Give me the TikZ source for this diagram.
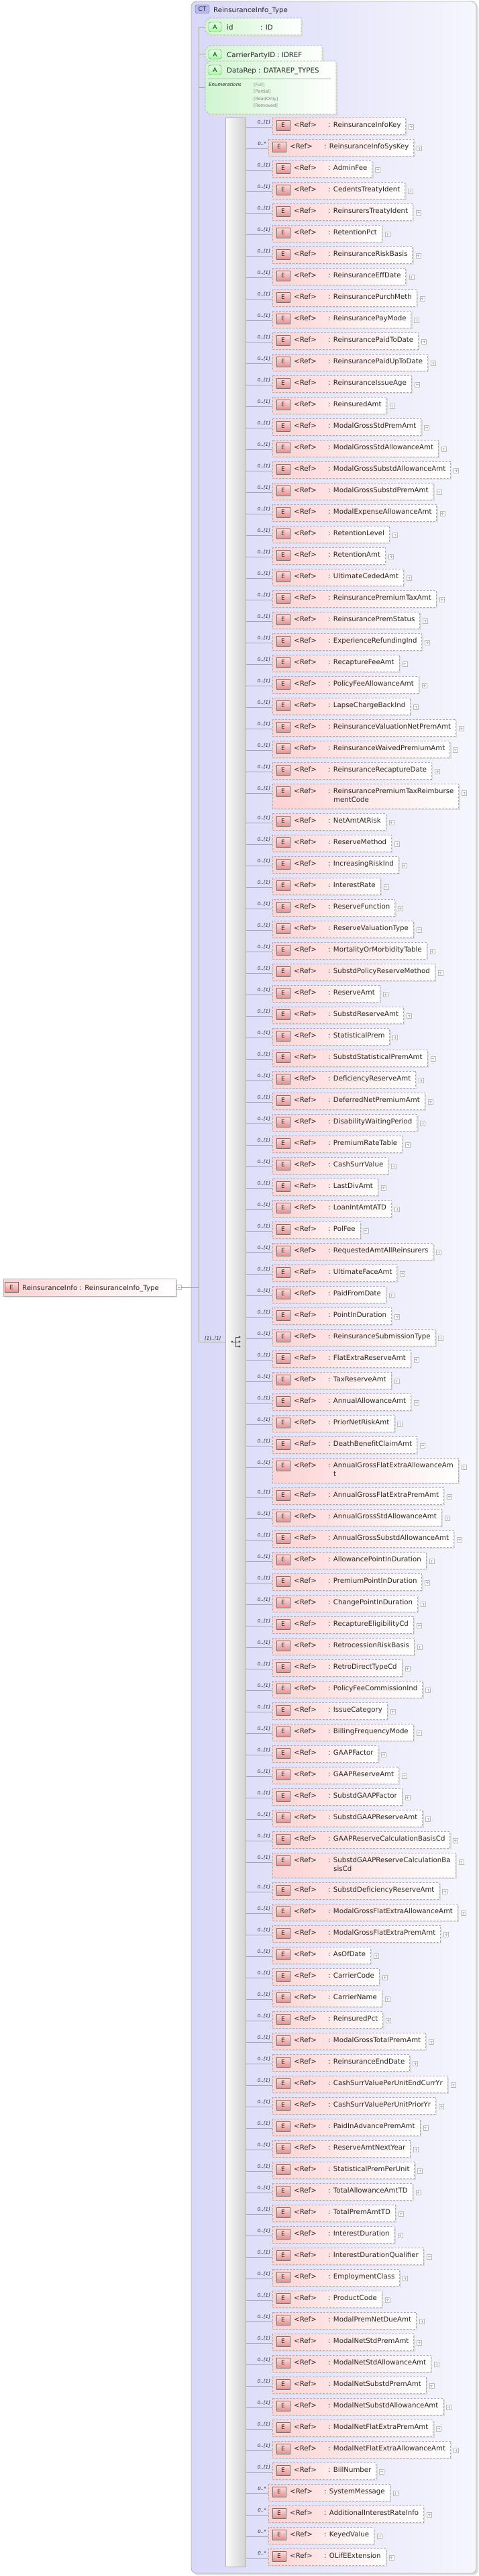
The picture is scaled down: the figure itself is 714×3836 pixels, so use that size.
\documentclass[tikz,border=0pt]{standalone}
\usepackage{fontspec}
\setmainfont{DejaVu Sans}
\usetikzlibrary{calc}
\pgfdeclarelayer{back}\pgfdeclarelayer{bg}\pgfsetlayers{back,bg,main}
\definecolor{pinkL}{RGB}{252,210,210}
\definecolor{greenL}{RGB}{208,245,208}
\definecolor{lavL}{RGB}{216,216,248}
\definecolor{lavR}{RGB}{246,246,253}
\definecolor{txt}{RGB}{40,40,40}
\tikzset{
  rname/.style={inner sep=0pt, font=\fontsize{10.2}{12}\selectfont, text=txt},
  multl/.style={inner sep=0pt, font=\fontsize{7}{8}\selectfont\itshape, text=txt},
  eicon/.style={draw=black!55, top color=pinkL!70, bottom color={rgb,255:red,235;green,140;blue,140}, minimum width=20pt, minimum height=15pt, inner sep=0pt, font=\fontsize{9}{10}\selectfont, text=txt},
  aicon/.style={draw=black!60, rounded corners=3pt, top color=green!12, bottom color=green!35!white, minimum width=19pt, minimum height=14pt, inner sep=0pt, font=\fontsize{9}{10}\selectfont, text=txt},
  conn/.style={draw=gray!70, line width=0.6pt},
  dbox/.style={draw=gray!65, dash pattern=on 3pt off 2pt, line width=0.6pt},
  plusbox/.style={draw=gray!55, fill=white, line width=0.5pt},
}
\begin{document}
\begin{tikzpicture}[x=1pt,y=-1pt]
\useasboundingbox (0,0) rectangle (714,3836);
% container
\begin{pgfonlayer}{back}
\fill[black!12] (288,5) [rounded corners=8pt] rectangle (713,3835);
\shade[left color=lavL, right color=lavR, rounded corners=8pt] (285,2) rectangle (710,3832);
\draw[gray!60, line width=0.8pt, rounded corners=8pt] (285,2) rectangle (710,3832);
\end{pgfonlayer}
\node[draw=black!60, rounded corners=3pt, fill={rgb,255:red,184;green,184;blue,240}, minimum width=21pt, minimum height=13pt, inner sep=0pt, font=\fontsize{9}{10}\selectfont, text=txt] (ct) at (301.5,13.5) {CT};
\node[rname, anchor=base west] (ctname) at (318,18) {ReinsuranceInfo\_Type};
% attributes
\coordinate (vtop) at (296,40);
\coordinate (vbot) at (296,1998);
\draw[conn] (vtop) -- (vbot);
\begin{pgfonlayer}{bg}
\foreach \ya/\yb/\xr in {27/52/449, 68/93/480, 91/170/501}{
  \fill[black!12] (314,\ya+3) -- (\xr+3,\ya+3) -- (\xr+3,\yb+3) -- (314,\yb+3) -- cycle;
  \shade[left color=greenL, right color=white] (312,\ya) -- (\xr,\ya) -- (\xr,\yb) -- (312,\yb) -- (306,\yb-6) -- (306,\ya+6) -- cycle;
  \draw[dbox] (312,\ya) -- (\xr,\ya) -- (\xr,\yb) -- (312,\yb) -- (306,\yb-6) -- (306,\ya+6) -- cycle;
}
\end{pgfonlayer}
\node[aicon] (a1) at (320.5,40) {A};
\node[aicon] (a2) at (320.5,81) {A};
\node[aicon] (a3) at (320.5,104) {A};
\draw[conn] (vtop) -- (a1.west -| 306,0);
\draw[conn] (296,80) -- (306,80);
\draw[conn] (296,130) -- (306,130);
\node[rname, anchor=base west] (t1) at (338,44) {id};
\node[rname, anchor=base west] (t1b) at (388,44) {: ID};
\node[rname, anchor=base west] (t2) at (338,85) {CarrierPartyID : IDREF};
\node[rname, anchor=base west] (t3) at (338,108) {DataRep : DATAREP\_TYPES};
\draw[gray!60, line width=0.8pt] (310,117) -- (493,117);
\node[multl, anchor=base west] (en) at (311,128) {Enumerations};
\foreach \v/\yy in {Full/128, Partial/138, ReadOnly/149, Removed/159}{
  \node[inner sep=0pt, font=\fontsize{6.5}{7}\selectfont, text=gray, anchor=base west] at (378,\yy) {[\v]};
}
% root element
\begin{pgfonlayer}{bg}
\fill[black!15] (7,1906) rectangle (264,1932);
\shade[left color=pinkL, right color=white] (5,1904) rectangle (262,1930);
\draw[gray!60, line width=0.6pt] (5,1904) rectangle (262,1930);
\end{pgfonlayer}
\node[eicon] (re) at (17,1917) {E};
\node[rname, anchor=base west] (rname) at (33,1921) {ReinsuranceInfo : ReinsuranceInfo\_Type};
\node[plusbox, minimum size=7pt, inner sep=0pt] (rminus) at (266.5,1917) {};
\draw[gray!60] (264.5,1917) -- (268.5,1917);
\draw[conn] (rminus.east) -- (296,1917);
% sequence
\node[draw=gray!60, left color=gray!4, right color=gray!35, minimum width=30pt, minimum height=3647pt, inner sep=0pt, anchor=north west] (bar) at (336,175) {};
\draw[conn] (vbot) -- (bar.west |- vbot);
\node[multl, anchor=base west] (seqlab) at (305,1995) {[1]..[1]};
\begin{scope}[black!70, line width=0.8pt]
\draw (346,1998) -- (351,1998);
\draw (351,1991) -- (351,2005);
\draw (351,1991) -- (357,1991) (351,1998) -- (357,1998) (351,2005) -- (357,2005);
\fill (346,1998) circle (1.7pt) (357,1991) circle (1.7pt) (357,1998) circle (1.7pt) (357,2005) circle (1.7pt);
\end{scope}
% rows
\gdef\rowtop{175}
\foreach \m/\rh/\na/\nb [count=\i] in {
1/25/ReinsuranceInfoKey/-, s/25/ReinsuranceInfoSysKey/-, 1/25/AdminFee/-, 1/25/CedentsTreatyIdent/-,
1/25/ReinsurersTreatyIdent/-, 1/25/RetentionPct/-, 1/25/ReinsuranceRiskBasis/-, 1/25/ReinsuranceEffDate/-,
1/25/ReinsurancePurchMeth/-, 1/25/ReinsurancePayMode/-, 1/25/ReinsurancePaidToDate/-, 1/25/ReinsurancePaidUpToDate/-,
1/25/ReinsuranceIssueAge/-, 1/25/ReinsuredAmt/-, 1/25/ModalGrossStdPremAmt/-, 1/25/ModalGrossStdAllowanceAmt/-,
1/25/ModalGrossSubstdAllowanceAmt/-, 1/25/ModalGrossSubstdPremAmt/-, 1/25/ModalExpenseAllowanceAmt/-, 1/25/RetentionLevel/-,
1/25/RetentionAmt/-, 1/25/UltimateCededAmt/-, 1/25/ReinsurancePremiumTaxAmt/-, 1/25/ReinsurancePremStatus/-,
1/25/ExperienceRefundingInd/-, 1/25/RecaptureFeeAmt/-, 1/25/PolicyFeeAllowanceAmt/-, 1/25/LapseChargeBackInd/-,
1/25/ReinsuranceValuationNetPremAmt/-, 1/25/ReinsuranceWaivedPremiumAmt/-, 1/25/ReinsuranceRecaptureDate/-,
1/37/ReinsurancePremiumTaxReimburse/mentCode,
1/25/NetAmtAtRisk/-, 1/25/ReserveMethod/-, 1/25/IncreasingRiskInd/-, 1/25/InterestRate/-, 1/25/ReserveFunction/-,
1/25/ReserveValuationType/-, 1/25/MortalityOrMorbidityTable/-, 1/25/SubstdPolicyReserveMethod/-, 1/25/ReserveAmt/-,
1/25/SubstdReserveAmt/-, 1/25/StatisticalPrem/-, 1/25/SubstdStatisticalPremAmt/-, 1/25/DeficiencyReserveAmt/-,
1/25/DeferredNetPremiumAmt/-, 1/25/DisabilityWaitingPeriod/-, 1/25/PremiumRateTable/-, 1/25/CashSurrValue/-,
1/25/LastDivAmt/-, 1/25/LoanIntAmtATD/-, 1/25/PolFee/-, 1/25/RequestedAmtAllReinsurers/-, 1/25/UltimateFaceAmt/-,
1/25/PaidFromDate/-, 1/25/PointInDuration/-, 1/25/ReinsuranceSubmissionType/-, 1/25/FlatExtraReserveAmt/-,
1/25/TaxReserveAmt/-, 1/25/AnnualAllowanceAmt/-, 1/25/PriorNetRiskAmt/-, 1/25/DeathBenefitClaimAmt/-,
1/37/AnnualGrossFlatExtraAllowanceAm/t,
1/25/AnnualGrossFlatExtraPremAmt/-, 1/25/AnnualGrossStdAllowanceAmt/-, 1/25/AnnualGrossSubstdAllowanceAmt/-,
1/25/AllowancePointInDuration/-, 1/25/PremiumPointInDuration/-, 1/25/ChangePointInDuration/-, 1/25/RecaptureEligibilityCd/-,
1/25/RetrocessionRiskBasis/-, 1/25/RetroDirectTypeCd/-, 1/25/PolicyFeeCommissionInd/-, 1/25/IssueCategory/-,
1/25/BillingFrequencyMode/-, 1/25/GAAPFactor/-, 1/25/GAAPReserveAmt/-, 1/25/SubstdGAAPFactor/-, 1/25/SubstdGAAPReserveAmt/-,
1/25/GAAPReserveCalculationBasisCd/-,
1/37/SubstdGAAPReserveCalculationBa/sisCd,
1/25/SubstdDeficiencyReserveAmt/-, 1/25/ModalGrossFlatExtraAllowanceAmt/-, 1/25/ModalGrossFlatExtraPremAmt/-,
1/25/AsOfDate/-, 1/25/CarrierCode/-, 1/25/CarrierName/-, 1/25/ReinsuredPct/-, 1/25/ModalGrossTotalPremAmt/-,
1/25/ReinsuranceEndDate/-, 1/25/CashSurrValuePerUnitEndCurrYr/-, 1/25/CashSurrValuePerUnitPriorYr/-,
1/25/PaidInAdvancePremAmt/-, 1/25/ReserveAmtNextYear/-, 1/25/StatisticalPremPerUnit/-, 1/25/TotalAllowanceAmtTD/-,
1/25/TotalPremAmtTD/-, 1/25/InterestDuration/-, 1/25/InterestDurationQualifier/-, 1/25/EmploymentClass/-,
1/25/ProductCode/-, 1/25/ModalPremNetDueAmt/-, 1/25/ModalNetStdPremAmt/-, 1/25/ModalNetStdAllowanceAmt/-,
1/25/ModalNetSubstdPremAmt/-, 1/25/ModalNetSubstdAllowanceAmt/-, 1/25/ModalNetFlatExtraPremAmt/-,
1/25/ModalNetFlatExtraAllowanceAmt/-, 1/25/BillNumber/-, s/25/SystemMessage/-, s/25/AdditionalInterestRateInfo/-,
s/25/KeyedValue/-, s/25/OLifEExtension/-}{
  \if s\m \def\bx{400}\def\lab{0..*}\else \def\bx{406}\def\lab{0..[1]}\fi
  \node[rname, anchor=base west] (n\i) at (\bx+83,\rowtop+14.7) {: \na};
  \ifnum\rh>25
    \node[rname, anchor=base west] (m\i) at (\bx+91,\rowtop+27.5) {\nb};
  \fi
  \path let \p1=(n\i.east) in coordinate (rb\i) at (\x1+7pt,\rowtop+\rh);
  \coordinate (lt\i) at (\bx,\rowtop);
  \begin{pgfonlayer}{bg}
    \fill[black!14] ([shift={(2pt,-2pt)}]lt\i) rectangle ([shift={(2pt,-2pt)}]rb\i);
    \shade[left color=pinkL, right color=white] (lt\i) rectangle (rb\i);
    \draw[dbox] (lt\i) rectangle (rb\i);
  \end{pgfonlayer}
  \node[eicon] (e\i) at (\bx+16,\rowtop+11.5) {E};
  \node[rname, anchor=base west] (ref\i) at (\bx+32,\rowtop+14.7) {<Ref>};
  \node[multl, anchor=base east] (lab\i) at (\bx-3,\rowtop+9) {\lab};
  \coordinate (c\i) at (\bx,\rowtop+14);
  \draw[conn] (bar.east |- c\i) -- (c\i);
  \path let \p1=(rb\i) in node[plusbox, minimum size=7pt, inner sep=0pt] (p\i) at (\x1+8.5pt,\rowtop+13.5) {};
  \draw[gray!55, line width=0.4pt] ([xshift=-2pt]p\i.center) -- ([xshift=2pt]p\i.center) ([yshift=-2pt]p\i.center) -- ([yshift=2pt]p\i.center);
  \pgfmathparse{\rowtop+\rh+7}\xdef\rowtop{\pgfmathresult}
}
\end{tikzpicture}
\end{document}
